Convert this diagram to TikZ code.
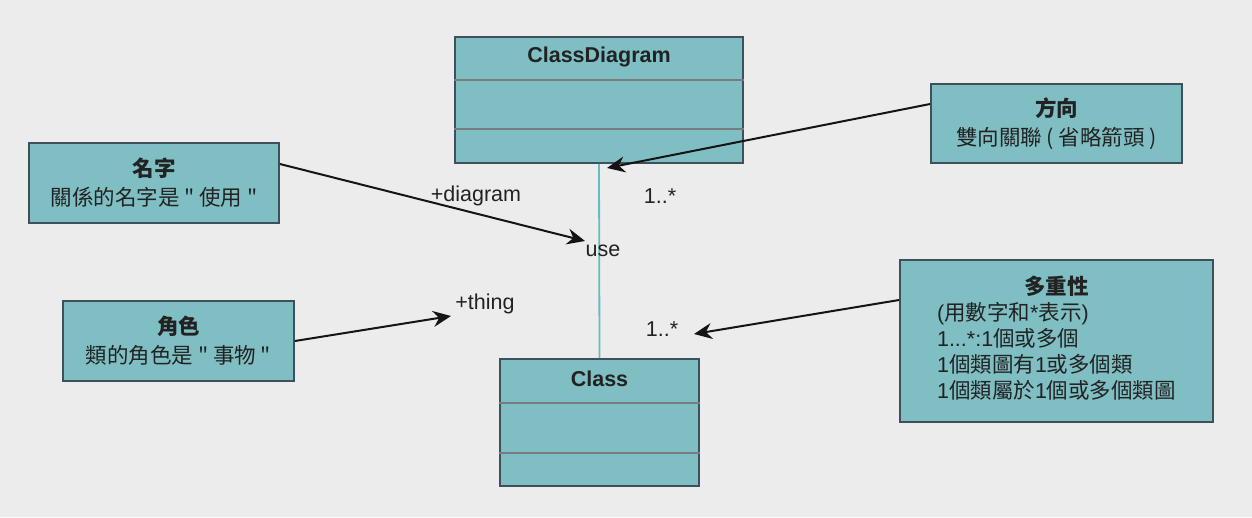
\documentclass[tikz,border=0pt]{standalone}
\usepackage{fontspec}
\setmainfont{Liberation Sans}
\newfontfamily\cjk{Noto Sans CJK TC}
\usetikzlibrary{arrows.meta}
\definecolor{bg}{RGB}{236,236,236}
\definecolor{boxfill}{RGB}{127,191,195}
\definecolor{boxline}{RGB}{62,80,92}
\definecolor{divline}{RGB}{120,124,128}
\definecolor{assocline}{RGB}{100,188,192}
\definecolor{txt}{RGB}{34,34,34}
\newcommand\zh[1]{{\cjk #1}}
\begin{document}
\begin{tikzpicture}[x=1pt,y=-1pt,
  every node/.style={font=\fontsize{21.5}{26}\selectfont, text=txt},
  umlbox/.style={draw=boxline, fill=boxfill, line width=1.8pt, inner sep=0pt},
  notebox/.style={draw=boxline, fill=boxfill, line width=1.8pt, inner sep=0pt, align=center},
  divider/.style={draw=divline, line width=1.4pt},
  pointer/.style={draw=black!92, line width=2pt, -{Stealth[length=18pt,width=16pt,inset=6pt]}},
  assoc/.style={draw=assocline, line width=1.8pt},
  lbl/.style={inner sep=0pt},
  titlelbl/.style={inner sep=0pt, font=\bfseries\fontsize{21.5}{26}\selectfont}]
\fill[bg] (0,0) rectangle (1252,517);
\useasboundingbox (0,0) rectangle (1252,517);

% UML classes
\node[umlbox, minimum width=288, minimum height=126] (cd) at (599,100) {};
\node[titlelbl] (cdname) at (599,57) {ClassDiagram};
\draw[divider] ([yshift=-44pt]cd.north west) -- ([yshift=-44pt]cd.north east);
\draw[divider] ([yshift=-93pt]cd.north west) -- ([yshift=-93pt]cd.north east);

\node[umlbox, minimum width=199, minimum height=127] (cls) at (599.5,422.5) {};
\node[titlelbl] (clsname) at (599.5,379) {Class};
\draw[divider] ([yshift=-45pt]cls.north west) -- ([yshift=-45pt]cls.north east);
\draw[divider] ([yshift=-95pt]cls.north west) -- ([yshift=-95pt]cls.north east);

\draw[assoc] (cd.south) -- (cls.north);

% association labels
\node[lbl] (ldiag) at (476,196) {+diagram};
\node[lbl] (lm1) at (660,196) {1..*};
\node[lbl] (luse) at (603,251) {use};
\node[lbl] (lthing) at (485,304) {+thing};
\node[lbl] (lm2) at (662,329) {1..*};

% notes
\node[notebox, minimum width=250, minimum height=80] (nm) at (154,183)
  {\textbf{\zh{名字}}\\[3pt]\zh{關係的名字是 " 使用 "}};
\node[notebox, minimum width=231, minimum height=80] (role) at (178.5,341)
  {\textbf{\zh{角色}}\\[3pt]\zh{類的角色是 " 事物 "}};
\node[notebox, minimum width=251, minimum height=79] (dir) at (1056.5,123.5)
  {\textbf{\zh{方向}}\\[3pt]\zh{雙向關聯 ( 省略箭頭 )}};
\node[notebox, minimum width=313, minimum height=162] (mult) at (1056.5,341)
  {\begin{tabular}{@{}l@{}}
   \multicolumn{1}{@{}c@{}}{\textbf{\zh{多重性}}}\\
   (\zh{用數字和}*\zh{表示})\\
   1...*:1\zh{個或多個}\\
   1\zh{個類圖有}1\zh{或多個類}\\
   1\zh{個類屬於}1\zh{個或多個類圖}
   \end{tabular}};

% pointer tips
\coordinate (tipuse) at (585,241);
\coordinate (tipthing) at (451,316);
\coordinate (tipdir) at (607,168);
\coordinate (tipmult) at (694,334);

\draw[pointer] ([yshift=19pt]nm.east) -- (tipuse);
\draw[pointer] (role.east) -- (tipthing);
\draw[pointer] ([yshift=19.5pt]dir.west) -- (tipdir);
\draw[pointer] ([yshift=41pt]mult.west) -- (tipmult);
\end{tikzpicture}
\end{document}
